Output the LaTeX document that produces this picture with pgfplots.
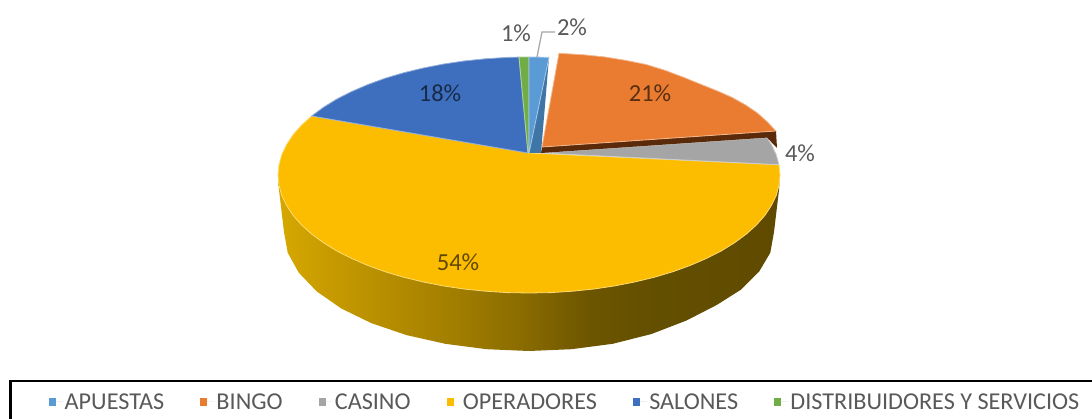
\documentclass[border=0pt]{standalone}
\usepackage{fontspec}
\setmainfont{Carlito}
\usepackage{pgfplots}
\pgfplotsset{compat=1.18}

\definecolor{apuestas}{HTML}{5B9BD5}
\definecolor{apuestasside}{HTML}{3F76A6}
\definecolor{bingo}{HTML}{E97C30}
\definecolor{bingoside}{HTML}{5A2A0A}
\definecolor{casino}{HTML}{A5A5A5}
\definecolor{operadores}{HTML}{FCBD00}
\definecolor{salones}{HTML}{3E6FBE}
\definecolor{distrib}{HTML}{70AD47}
\definecolor{labeltxt}{HTML}{595959}
\definecolor{w0}{HTML}{D6A800}
\definecolor{w1}{HTML}{BD9300}
\definecolor{w2}{HTML}{A07D00}
\definecolor{w3}{HTML}{8A6C00}
\definecolor{w4}{HTML}{6E5600}
\definecolor{w5}{HTML}{645000}
\definecolor{w6}{HTML}{5F4A00}

% wall colour runs left to right, 25bp..75bp is the box of the wall
\pgfdeclarehorizontalshading{wallshade}{100bp}{color(0bp)=(w0); color(25bp)=(w0);
  color(33.2bp)=(w1); color(43.1bp)=(w2); color(49.1bp)=(w3); color(55.8bp)=(w4);
  color(61bp)=(w5); color(75bp)=(w6); color(100bp)=(w6)}

\newcommand{\lblfont}{\fontsize{24.5}{28}\selectfont}
\newcommand{\legfont}{\fontsize{24.2}{28}\selectfont}

\begin{document}
\begin{tikzpicture}
\useasboundingbox (0,0) rectangle (1092pt,419pt);
\begin{axis}[
  at={(0,0)}, anchor=south west,
  scale only axis, width=1092pt, height=419pt,
  xmin=0, xmax=1092, ymin=0, ymax=419, y dir=reverse,
  hide axis, no markers,
  slice/.style={forget plot, line width=0.8pt, line join=round},
  legend columns=6,
  legend image code/.code={
    \fill[draw=none, #1] (0pt,-3.5pt) rectangle (7pt,3.5pt);
    \path[draw=none] (0pt,0pt) -- (14pt,0pt);
  },
  legend style={at={(axis cs:48.5,402)}, anchor=west, draw=none, fill=none, inner sep=0pt,
    font=\legfont, text=labeltxt,
    /tikz/every odd column/.append style={column sep=0pt},
    /tikz/every even column/.append style={column sep=34.2pt}},
  legend cell align=left,
]
% side wall
\addplot[forget plot, draw=none, shading=wallshade] coordinates {
  (278,175) (780,175) (779,190) (774,232) (770.3,252.7) (759.2,271.5) (741.2,289.5)
  (716.7,305) (686.5,320.5) (651.5,334) (612.8,343.8) (571.5,349.2) (529,351)
  (486.5,349.2) (445.2,343.8) (406.5,335.1) (371.5,323.2) (341.3,308.5) (316.8,291.5)
  (298.8,272.7) (287.7,252.7) (284,232) (279,190) (278,175)};
% OPERADORES
\addplot[slice, fill=operadores, draw=operadores!55!white] coordinates {
  (529,153) (779,164.7) (780,175) (779,185.3) (776.2,195.5) (771.4,205.5) (764.9,215.4)
  (756.5,224.9) (746.4,234) (734.6,242.7) (721.3,250.9) (706.5,258.4) (690.3,265.4)
  (673,271.7) (654.5,277.2) (635.1,281.9) (614.8,285.9) (594,289) (572.6,291.2)
  (550.9,292.6) (529,293) (507.1,292.6) (485.4,291.2) (464,289) (443.2,285.9)
  (422.9,281.9) (403.5,277.2) (385,271.7) (367.7,265.4) (351.5,258.4) (336.7,250.9)
  (323.4,242.7) (311.6,234) (301.5,224.9) (293.1,215.4) (286.6,205.5) (281.8,195.5)
  (279,185.3) (278,175) (279,164.7) (281.8,154.5) (286.6,144.5) (293.1,134.6)
  (301.5,125.1) (311.6,116) (529,153)};
% CASINO
\addplot[slice, fill=casino, draw=casino!55!white] coordinates {
  (541,153) (767,137.6) (771.4,144.5) (776.2,154.5) (779,164.7) (541,153)};
% BINGO, cut face and top
\addplot[forget plot, fill=bingoside, draw=none] coordinates {
  (542,147) (776,131) (777,148) (767,137.6) (541,153) (542,147)};
\addplot[slice, fill=bingo, draw=bingo!55!white] coordinates {
  (542,147) (559,53.3) (583.6,54.8) (605,57) (625.8,60.4) (646.1,64.5) (665.5,70.5)
  (684,77.5) (701.3,84.5) (717.5,91) (732.3,97.5) (745.6,105) (757.4,113)
  (767.5,122) (775.9,131) (542,147)};
% SALONES
\addplot[slice, fill=salones, draw=salones!55!white] coordinates {
  (528,153) (311.6,116) (323.4,107.3) (336.7,99.1) (351.5,91.6) (367.7,84.6) (385,78.3)
  (403.5,72.8) (422.9,68.1) (443.2,64.1) (464,61) (485.4,58.8) (507.1,57.4) (519,57.1)
  (528,153)};
% DISTRIBUIDORES
\addplot[slice, fill=distrib, draw=distrib!55!white] coordinates {
  (528,153) (519,57.1) (529,57) (529,153) (528,153)};
% APUESTAS, cut face and top
\addplot[forget plot, fill=apuestasside, draw=none] coordinates {
  (529,153) (549,57.4) (541,153) (529,153)};
\addplot[slice, fill=apuestas, draw=apuestas!55!white] coordinates {
  (529,153) (529,57) (539,57.1) (549,57.4) (529,153)};
% legend frame
\addplot[forget plot, draw=black, line width=2.5pt] coordinates {(10.5,425) (10.5,381) (1098,381)};
% leader line
\addplot[forget plot, draw=casino, line width=1.2pt] coordinates {(537,57) (542,32) (555,32)};

\node[text=labeltxt, font=\lblfont] at (axis cs:516,33) {1\%};
\node[text=labeltxt, font=\lblfont] at (axis cs:572,27) {2\%};
\node[text=labeltxt, font=\lblfont] at (axis cs:800,153) {4\%};
\node[text=black, text opacity=0.62, font=\lblfont] at (axis cs:650,93) {21\%};
\node[text=black, text opacity=0.62, font=\lblfont] at (axis cs:440,93) {18\%};
\node[text=black, text opacity=0.62, font=\lblfont] at (axis cs:458,262) {54\%};

\addlegendimage{fill=apuestas}
\addlegendentry{APUESTAS}
\addlegendimage{fill=bingo}
\addlegendentry{BINGO}
\addlegendimage{fill=casino}
\addlegendentry{CASINO}
\addlegendimage{fill=operadores}
\addlegendentry{OPERADORES}
\addlegendimage{fill=salones}
\addlegendentry{SALONES}
\addlegendimage{fill=distrib}
\addlegendentry{DISTRIBUIDORES Y SERVICIOS}
\end{axis}
\end{tikzpicture}
\end{document}
